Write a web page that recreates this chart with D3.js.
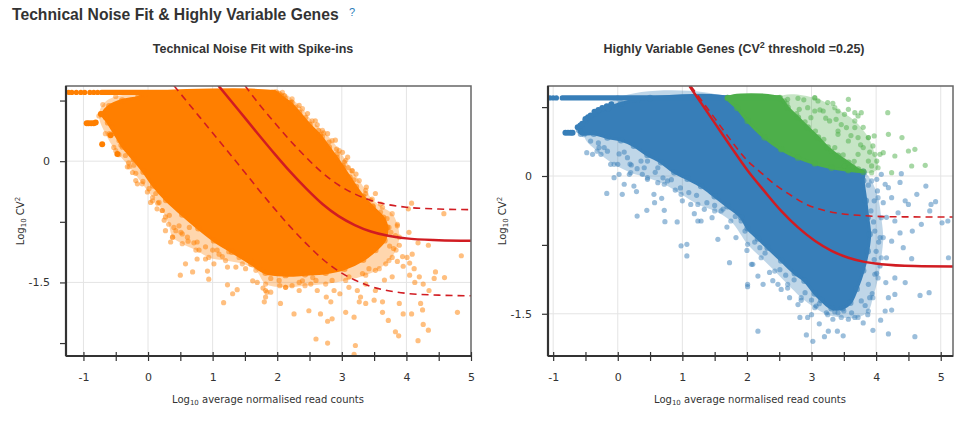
<!DOCTYPE html>
<html>
<head>
<meta charset="utf-8">
<script src="https://cdn.jsdelivr.net/npm/d3@7"></script>
<style>
body { margin: 0; background: #fff; }
svg text { fill: #333; }
</style>
</head>
<body>
<script>
// values (log10 units)
var capLevel = 0.85;

// ---- left: technical noise fit with spike-ins ----
var spikeXLabels = [-1, 0, 1, 2, 3, 4];
var spikeYLabels = [0, -1.5];
var spikeYMinor = [0.75, -0.75, -2.25];
var spikeCapDots = [-1.23, -1.18, -1.11, -1.04, -0.98, -0.9, -0.84, -0.78];
var spikeCapRow = [-0.72, 1.95];
var spikeTail = [[-0.95, 0.47], [-0.92, 0.47], [-0.88, 0.47], [-0.84, 0.47], [-0.81, 0.48],
  [-0.71, 0.21], [-0.73, 0.585], [-0.655, 0.545], [-0.58, 0.32], [-0.475, 0.09]];
var spikeCore = [[-0.05, 0.83], [1.98, 0.85], [2.06, 0.8], [2.2, 0.72], [2.34, 0.6], [2.5, 0.45],
  [2.66, 0.32], [2.8, 0.17], [2.92, 0.04], [3.02, -0.08], [3.12, -0.2], [3.22, -0.32], [3.33, -0.44],
  [3.48, -0.57], [3.64, -0.7], [3.7, -0.82], [3.66, -0.98], [3.52, -1.1], [3.33, -1.22], [3.04, -1.33],
  [2.75, -1.38], [2.43, -1.4], [2.13, -1.41], [1.82, -1.38], [1.6, -1.27], [1.3, -1.12], [1.02, -0.98],
  [0.78, -0.83], [0.53, -0.66], [0.28, -0.48], [0.08, -0.3], [-0.07, -0.13], [-0.22, 0.02], [-0.39, 0.18],
  [-0.52, 0.35], [-0.62, 0.48], [-0.7, 0.58], [-0.6, 0.68], [-0.4, 0.75], [-0.15, 0.79]];
var spikeHalo = [[-0.5, 0.8], [2.08, 0.85], [2.23, 0.77], [2.39, 0.65], [2.54, 0.5], [2.7, 0.38],
  [2.85, 0.255], [2.96, 0.13], [3.06, 0.01], [3.16, -0.115], [3.27, -0.24], [3.37, -0.36], [3.47, -0.47],
  [3.63, -0.57], [3.78, -0.65], [3.86, -0.78], [3.89, -0.94], [3.84, -1.1], [3.73, -1.23], [3.58, -1.33],
  [3.37, -1.41], [3.06, -1.475], [2.75, -1.52], [2.43, -1.54], [2.13, -1.56], [1.82, -1.52], [1.67, -1.35],
  [1.46, -1.27], [1.2, -1.23], [0.94, -1.19], [0.74, -1.1], [0.53, -1.02], [0.38, -0.94], [0.32, -0.78],
  [0.22, -0.61], [0.07, -0.45], [-0.09, -0.28], [-0.29, -0.07], [-0.5, 0.13], [-0.66, 0.34], [-0.76, 0.56],
  [-0.7, 0.7]];
var spikePoints = [[-0.24, -0.14], [-0.19, -0.24], [-0.165, -0.28], [0.07, -0.49], [0.015, -0.34],
  [0.17, -0.51], [0.25, -0.73], [0.27, -0.86], [0.38, -0.94], [0.35, -1.0], [0.43, -0.86], [0.48, -0.8],
  [0.58, -1.27], [0.5, -1.41], [0.69, -1.37], [0.71, -1.01], [0.79, -1.1], [0.92, -1.36], [0.94, -1.46],
  [0.89, -1.21], [1.02, -1.27], [1.1, -1.15], [1.23, -1.31], [1.23, -1.53], [1.31, -1.64], [1.38, -1.59],
  [1.17, -1.75], [1.36, -1.31], [1.51, -1.33], [1.62, -1.48], [1.69, -1.5], [1.78, -1.57], [1.82, -1.68],
  [1.8, -1.74], [1.84, -1.62], [0.22, -0.61], [0.33, -0.67], [0.12, -0.4], [-0.01, -0.38], [-0.08, -0.25],
  [-0.19, -0.15], [-0.32, -0.07], [-0.45, 0.08], [-0.53, 0.17], [-0.6, 0.34], [0.53, -0.9], [0.64, -0.82],
  [0.76, -1.21], [1.0, -1.1],
  [1.9, -1.62], [2.05, -1.76], [2.26, -1.89], [2.13, -1.56], [2.34, -1.6], [2.49, -1.85], [2.6, -2.2],
  [2.78, -2.25], [2.67, -1.89], [2.83, -1.74], [2.85, -1.95], [2.78, -1.98], [3.06, -1.87], [3.19, -1.93],
  [3.21, -2.28], [3.19, -2.39], [3.29, -1.68], [3.37, -1.76], [3.52, -1.6], [3.63, -1.87], [3.72, -1.97],
  [3.83, -2.11], [3.88, -2.16], [3.89, -1.76], [3.95, -1.89], [4.08, -1.89], [4.18, -2.22], [4.22, -1.76],
  [4.25, -1.84], [4.34, -2.09], [4.26, -2.02], [4.26, -1.52], [4.35, -1.6], [4.45, -1.37], [4.43, -1.45],
  [4.59, -1.44], [4.79, -1.87], [4.85, -1.17], [4.58, -0.65], [4.08, -0.52], [4.03, -0.59], [4.04, -0.88],
  [4.18, -1.01], [4.34, -1.04], [4.09, -1.15], [4.01, -1.19], [3.94, -1.18], [4.05, -1.26], [4.12, -1.33],
  [4.05, -1.41], [4.13, -1.5], [4.2, -1.43], [3.95, -1.3], [3.86, -1.24], [3.8, -1.08], [3.89, -1.04],
  [3.86, -0.8], [3.73, -0.82], [3.83, -0.92], [3.64, -0.73], [3.6, -0.53], [3.48, -0.55], [3.37, -0.4],
  [3.38, -0.32], [3.19, -0.23], [3.16, -0.12], [3.02, -0.05], [3.09, 0.05], [3.01, 0.11], [2.92, 0.15],
  [2.9, 0.26], [2.78, 0.34], [2.72, 0.35], [2.62, 0.45], [2.59, 0.5], [2.47, 0.59], [2.34, 0.69],
  [2.23, 0.73], [2.11, 0.81], [2.13, 0.78], [2.03, 0.84], [1.92, 0.85], [3.78, -1.43], [3.66, -1.47],
  [3.37, -1.52], [3.24, -1.6], [3.11, -1.56], [2.97, -1.64], [2.88, -1.6], [2.76, -1.68], [2.62, -1.6],
  [2.52, -1.52], [2.39, -1.48], [2.23, -1.54], [2.04, -1.54], [1.82, -1.6], [3.27, -1.74], [3.5, -1.72],
  [3.63, -1.74],
  [0.04, -0.51], [0.14, -0.59], [0.27, -0.69], [0.4, -0.82], [0.51, -0.88], [0.61, -0.94], [0.76, -1.0],
  [0.89, -1.06], [1.07, -1.1], [1.25, -1.12], [1.41, -1.19], [1.59, -1.23], [1.74, -1.29], [-0.35, 0.07],
  [-0.22, -0.05], [-0.45, 0.255], [-0.55, 0.42], [3.52, -0.4], [3.6, -0.63], [3.7, -0.71], [3.76, -0.88],
  [3.78, -1.19], [3.68, -1.27], [3.52, -1.35], [3.32, -1.39], [3.11, -1.43], [2.85, -1.475], [2.6, -1.475],
  [2.34, -1.5], [2.03, -1.475], [3.22, -0.16], [3.04, -0.01], [2.93, 0.09], [2.8, 0.235], [2.64, 0.38],
  [2.44, 0.54], [2.28, 0.67], [0.15, -0.52], [0.62, -0.99], [1.15, -1.18], [1.9, -1.45], [2.55, -1.44],
  [3.42, -1.33], [3.74, -1.05], [3.45, -0.48], [3.1, -0.08], [2.7, 0.3], [-0.3, -0.02], [-0.42, 0.2]];
var spikeFit = [[1.09, 0.935], [1.4, 0.633], [1.7, 0.34], [1.95, 0.1], [2.2, -0.13], [2.45, -0.34],
  [2.7, -0.53], [2.95, -0.68], [3.2, -0.79], [3.45, -0.87], [3.7, -0.92], [4.0, -0.955], [4.5, -0.977],
  [5.0, -0.985]];
var spikeUpper = [[1.5, 0.935], [1.7, 0.725], [1.95, 0.485], [2.2, 0.255], [2.45, 0.045], [2.7, -0.145],
  [2.95, -0.295], [3.2, -0.405], [3.45, -0.485], [3.7, -0.535], [4.0, -0.57], [4.5, -0.592], [5.0, -0.6]];
var spikeLower = [[0.4, 0.935], [0.8, 0.545], [1.2, 0.155], [1.5, -0.14], [1.7, -0.34], [1.95, -0.58],
  [2.2, -0.81], [2.45, -1.02], [2.7, -1.21], [2.95, -1.36], [3.2, -1.47], [3.45, -1.55], [3.7, -1.6],
  [4.0, -1.635], [4.5, -1.657], [5.0, -1.665]];

// ---- right: highly variable genes ----
var geneXLabels = [-1, 0, 1, 2, 3, 4, 5];
var geneYLabels = [0, -1.5];
var geneYMinor = [0.75, -0.75];
var geneCapDots = [-1.05, -1.0, -0.95];
var geneCapRow = [-0.86, 1.7];
var hvgCapRow = [1.7, 2.5];
var geneTail = [[-0.81, 0.47], [-0.77, 0.47], [-0.73, 0.47], [-0.7, 0.47], [-0.62, 0.53], [-0.58, 0.55],
  [-0.55, 0.57], [-0.5, 0.62], [-0.46, 0.64], [-0.42, 0.66], [-0.36, 0.7], [-0.3, 0.72], [-0.24, 0.74],
  [-0.17, 0.76], [-0.1, 0.78]];
var hvgBoundary = [[1.7, 0.85], [1.85, 0.74], [2.01, 0.6], [2.27, 0.42], [2.53, 0.29], [2.79, 0.2],
  [3.05, 0.135], [3.31, 0.09], [3.57, 0.062], [3.8, 0.047]];
var geneEdge = [[3.8, -0.05], [3.84, -0.27], [3.87, -0.45], [3.9, -0.635], [3.87, -0.82], [3.8, -1.03],
  [3.7, -1.23], [3.6, -1.38], [3.48, -1.44], [3.31, -1.44], [3.15, -1.35], [3.05, -1.28], [2.89, -1.14],
  [2.74, -1.06], [2.53, -0.92], [2.32, -0.78], [2.17, -0.68], [2.01, -0.57], [1.91, -0.45], [1.7, -0.33],
  [1.5, -0.22], [1.29, -0.11], [1.08, -0.03], [0.875, 0.04], [0.67, 0.15], [0.46, 0.23], [0.25, 0.33],
  [0.05, 0.39], [-0.16, 0.42], [-0.37, 0.46], [-0.57, 0.46], [-0.6, 0.5], [-0.5, 0.6], [-0.35, 0.68],
  [-0.15, 0.74], [0.05, 0.79], [0.3, 0.83], [0.5, 0.85]];
var geneHalo = [[1.7, 0.85], [2.01, 0.6], [2.53, 0.29], [3.05, 0.135], [3.57, 0.062], [3.82, 0.036],
  [3.93, -0.054], [4.03, -0.236], [4.08, -0.454], [4.11, -0.67], [4.08, -0.89], [4.03, -1.11], [3.95, -1.325],
  [3.88, -1.47], [3.72, -1.54], [3.46, -1.54], [3.25, -1.51], [3.05, -1.434], [2.84, -1.325], [2.63, -1.18],
  [2.43, -1.035], [2.22, -0.89], [2.01, -0.744], [1.75, -0.49], [1.5, -0.38], [1.24, -0.31], [0.98, -0.2],
  [0.72, -0.09], [0.46, -0.018], [0.2, 0.036], [-0.057, 0.127], [-0.32, 0.27], [-0.52, 0.45], [0.0, 0.85]];
var hvgEdge = [[3.72, 0.07], [3.57, 0.145], [3.41, 0.22], [3.25, 0.31], [3.1, 0.42], [2.94, 0.53],
  [2.79, 0.635], [2.63, 0.745], [2.51, 0.85]];
var hvgHalo = [[2.5, 0.853], [3.05, 0.85], [3.36, 0.744], [3.67, 0.6], [3.88, 0.418], [3.98, 0.236],
  [4.03, 0.09], [3.93, 0.036], [3.57, 0.062], [3.05, 0.135], [2.53, 0.29]];
var genePoints = [[-0.48, 0.254], [-0.39, 0.236], [-0.26, 0.236], [-0.29, 0.31], [-0.16, 0.27],
  [-0.17, -0.19], [-0.057, -0.018], [0.02, 0.018], [0.07, -0.2], [0.1, -0.09], [0.18, 0.018], [0.21, 0.12],
  [0.25, -0.11], [0.29, -0.17], [0.3, -0.436], [0.45, -0.374], [0.38, 0.018], [0.46, -0.036], [0.56, -0.2],
  [0.57, -0.29], [0.62, -0.073], [0.68, -0.243], [0.72, -0.374], [0.73, -0.497], [0.77, -0.054],
  [0.89, -0.153], [0.92, -0.5], [0.98, -0.76], [1.0, -0.27], [1.07, -0.744], [1.07, -0.87], [1.185, -0.41],
  [1.24, -0.49], [1.29, -0.49], [1.34, -0.363], [1.46, -0.454], [1.55, -0.69], [1.69, -0.556],
  [1.73, -0.944], [1.83, -0.67], [2.0, -0.81], [2.01, -1.205], [2.07, -0.962], [1.91, -0.49], [1.6, -0.38],
  [1.13, -0.31], [0.46, 0.163], [0.62, 0.09], [0.36, 0.163], [0.15, 0.2], [0.0, 0.127], [-0.11, 0.127],
  [2.09, -0.962], [2.01, -1.18], [2.17, -1.69], [2.35, -1.05], [2.4, -1.14], [2.53, -1.235], [2.63, -1.22],
  [2.82, -1.54], [2.84, -1.354], [2.92, -1.73], [2.94, -1.54], [3.02, -1.8], [3.12, -1.61], [3.2, -1.75],
  [3.26, -1.69], [3.33, -1.56], [3.4, -1.69], [3.49, -1.74], [3.57, -1.56], [3.67, -1.54], [3.8, -1.6],
  [3.87, -1.51], [3.95, -1.68], [4.07, -1.57], [4.19, -1.72], [4.6, -1.75], [4.14, -1.47], [4.24, -1.46],
  [4.29, -1.29], [4.19, -1.325], [4.15, -1.16], [4.29, -1.11], [4.45, -1.16], [4.68, -1.3], [4.82, -1.27],
  [4.55, -0.9], [4.42, -0.78], [4.16, -0.89], [4.24, -0.71], [4.37, -0.62], [4.56, -0.6], [4.7, -0.526],
  [4.83, -0.38], [4.85, -0.31], [4.77, -0.11], [4.63, -0.2], [4.5, -0.31], [4.45, -0.27], [4.34, -0.4],
  [4.29, -0.49], [4.16, -0.45], [4.24, -0.236], [4.14, -0.09], [4.08, 0.018], [4.01, -0.036], [4.39, 0.025],
  [4.37, -0.07], [4.19, -0.127], [4.02, -0.163], [4.11, -0.29], [3.98, -0.6], [4.06, -0.67], [4.0, -0.82],
  [4.06, -0.98], [3.98, -1.07], [3.88, -1.18], [3.9, -1.325], [3.77, -1.36], [3.41, -1.49], [3.23, -1.49],
  [3.07, -1.416], [3.0, -1.51], [2.79, -1.4], [2.66, -1.325], [2.48, -1.18], [2.25, -1.18], [2.17, -1.09],
  [5.12, -0.89], [5.11, -0.49], [4.92, -0.28], [5.02, -0.51],
  [-0.42, 0.38], [-0.21, 0.31], [0.02, 0.24], [0.19, 0.13], [0.41, 0.09], [0.58, 0.04], [0.83, -0.04],
  [0.97, -0.13], [1.22, -0.21], [1.38, -0.29], [1.63, -0.36], [1.82, -0.44], [1.97, -0.6], [2.12, -0.72],
  [2.28, -0.84], [2.51, -1.02], [2.73, -1.13], [2.9, -1.27], [3.12, -1.39], [3.36, -1.48], [3.62, -1.49],
  [3.83, -1.41], [3.94, -1.28], [4.01, -1.06], [3.97, -0.91], [4.04, -0.72], [3.96, -0.5], [3.97, -0.27],
  [3.88, -0.1], [0.3, 0.08], [0.7, -0.02], [1.1, -0.18], [1.5, -0.32], [2.2, -0.78], [2.6, -1.08],
  [3.0, -1.35], [3.5, -1.47], [3.92, -0.38], [-0.3, 0.36], [0.1, 0.26]];
var hvgPoints = [[2.58, 0.817], [2.63, 0.835], [2.79, 0.846], [2.81, 0.726], [2.94, 0.744], [2.99, 0.635],
  [3.1, 0.817], [3.05, 0.708], [3.18, 0.708], [3.25, 0.8], [3.28, 0.6], [3.38, 0.617], [3.41, 0.708],
  [3.51, 0.672], [3.57, 0.726], [3.67, 0.69], [3.77, 0.69], [3.72, 0.654], [3.54, 0.527], [3.67, 0.527],
  [3.41, 0.454], [3.57, 0.381], [3.72, 0.418], [3.8, 0.309], [3.88, 0.418], [3.97, 0.436], [3.95, 0.327],
  [4.06, 0.236], [4.01, 0.163], [4.11, 0.254], [3.72, 0.236], [3.88, 0.163], [4.19, 0.454], [4.18, 0.69],
  [4.4, 0.418], [4.29, 0.218], [4.5, 0.272], [4.6, 0.29], [4.55, 0.109], [4.76, 0.116], [4.24, 0.036],
  [3.57, 0.835], [3.05, 0.853], [3.41, 0.49], [3.31, 0.272], [3.64, 0.109], [3.51, 0.109],
  [2.62, 0.79], [2.77, 0.68], [2.9, 0.59], [3.06, 0.49], [3.19, 0.4], [3.36, 0.31], [3.49, 0.23],
  [3.66, 0.16], [3.22, 0.63], [3.46, 0.56], [3.61, 0.44], [3.76, 0.34], [3.9, 0.26], [3.33, 0.79],
  [2.88, 0.83], [3.13, 0.72], [3.8, 0.53], [3.93, 0.11]];
var geneFit = [[1.11, 0.98], [1.45, 0.63], [1.75, 0.32], [2.01, 0.06], [2.27, -0.165], [2.53, -0.38],
  [2.79, -0.56], [3.05, -0.705], [3.31, -0.815], [3.57, -0.89], [3.82, -0.935], [4.08, -0.96], [4.6, -0.98],
  [5.2, -0.985]];
var geneThreshold = [[1.13, 0.98], [1.5, 0.63], [1.75, 0.39], [2.01, 0.165], [2.22, 0.035], [2.43, -0.09],
  [2.69, -0.215], [2.94, -0.315], [3.2, -0.375], [3.46, -0.41], [3.77, -0.43], [4.18, -0.443], [5.2, -0.447]];

var orange = '#ff7f00', blue = '#377eb8', green = '#4daf4a', red = '#d11c22';
var r = 2.6;

var svg = d3.select('body').append('svg')
    .attr('width', 970)
    .attr('height', 422);

svg.append('text')
    .attr('x', 12).attr('y', 20)
    .style('font-family', '"Liberation Sans", Arial, sans-serif')
    .style('font-weight', 'bold').style('font-size', '15.7px')
    .text('Technical Noise Fit & Highly Variable Genes');
svg.append('text')
    .attr('x', 349).attr('y', 16)
    .style('font-family', '"Liberation Sans", Arial, sans-serif')
    .style('font-size', '11px').style('fill', '#2b7bb9')
    .text('?');

function drawPanel(p) {
    var x = d3.scaleLinear().domain(p.xDomain).range([p.left, p.right]);
    var y = d3.scaleLinear().domain(p.yDomain).range([p.bottom, p.top]);
    var g = svg.append('g');
    var w = p.right - p.left, h = p.bottom - p.top;

    g.append('text')
        .attr('x', p.titleX).attr('y', 53)
        .attr('text-anchor', 'middle')
        .style('font-family', '"Liberation Sans", Arial, sans-serif')
        .style('font-weight', 'bold').style('font-size', '12.5px')
        .call(p.title);

    g.append('clipPath').attr('id', 'clip-' + p.id)
        .append('rect').attr('x', p.left).attr('y', p.top).attr('width', w).attr('height', h);

    // grid
    g.selectAll('.vgrid').data(p.xLabels).enter().append('line')
        .attr('x1', function (d) { return x(d); }).attr('x2', function (d) { return x(d); })
        .attr('y1', p.top).attr('y2', p.bottom)
        .style('stroke', '#e4e4e4').style('stroke-width', 1);
    g.selectAll('.hgrid').data(p.yLabels).enter().append('line')
        .attr('y1', function (d) { return y(d); }).attr('y2', function (d) { return y(d); })
        .attr('x1', p.left).attr('x2', p.right)
        .style('stroke', '#e4e4e4').style('stroke-width', 1);

    var plot = g.append('g').attr('clip-path', 'url(#clip-' + p.id + ')');
    var area = d3.line().x(function (d) { return x(d[0]); }).y(function (d) { return y(d[1]); })
        .curve(d3.curveCatmullRomClosed);
    var line = d3.line().x(function (d) { return x(d[0]); }).y(function (d) { return y(d[1]); })
        .curve(d3.curveMonotoneX);

    function dots(sel, data, rad, op) {
        sel.selectAll(null).data(data).enter().append('circle')
            .attr('cx', function (d) { return x(d[0]); }).attr('cy', function (d) { return y(d[1]); })
            .attr('r', rad).style('fill', sel.attr('data-c')).style('fill-opacity', op);
    }

    p.clouds.forEach(function (c) {
        var cg = plot.append('g').attr('data-c', c.color);
        // half-dense fringe, then the saturated core
        cg.append('path').attr('d', area(c.halo))
            .style('fill', c.color).style('fill-opacity', 0.32);
        dots(cg, c.halo, r, 0.45);
        cg.append('path').attr('d', area(c.core))
            .style('fill', c.color).style('stroke', c.color)
            .style('stroke-width', 3).style('stroke-linejoin', 'round');
        dots(cg, c.core, r + 0.6, 0.6);
        cg.append('line')
            .attr('x1', x(c.capRow[0])).attr('x2', x(c.capRow[1]))
            .attr('y1', y(capLevel)).attr('y2', y(capLevel))
            .style('stroke', c.color).style('stroke-width', r * 2).style('stroke-linecap', 'round');
        cg.selectAll(null).data(c.capDots || []).enter().append('circle')
            .attr('cx', function (d) { return x(d); }).attr('cy', y(capLevel)).attr('r', r)
            .style('fill', c.color);
        dots(cg, c.tail || [], r + 0.4, 1);
        dots(cg, c.points, r, 0.5);
    });

    p.lines.forEach(function (l) {
        plot.append('path').attr('d', line(l.data))
            .style('fill', 'none').style('stroke', red).style('stroke-width', l.dash ? 1.6 : 2.5)
            .style('stroke-dasharray', l.dash ? '7,5' : null);
    });

    // frame
    g.append('rect').attr('x', p.left).attr('y', p.top).attr('width', w).attr('height', h)
        .style('fill', 'none').style('stroke', '#666').style('stroke-width', 1.5);

    // axes
    var xTicks = d3.range(p.xLabels[0], p.xDomain[1] + 0.01, 0.5);
    var xa = g.append('g').attr('transform', 'translate(0,' + p.bottom + ')')
        .call(d3.axisBottom(x).tickValues(xTicks).tickSize(5).tickPadding(12)
            .tickFormat(function (d) { return Number.isInteger(d) ? d : ''; }));
    xa.select('.domain').remove();
    xa.selectAll('.tick line').attr('y1', -4).style('stroke', '#333').style('stroke-width', 1.2);
    xa.selectAll('text').style('font-family', '"DejaVu Sans", sans-serif').style('font-size', '11px').style('fill', '#333');

    var ya = g.append('g').attr('transform', 'translate(' + p.left + ',0)')
        .call(d3.axisLeft(y).tickValues(p.yLabels.concat(p.yMinor)).tickSize(6).tickPadding(10)
            .tickFormat(function (d) { return p.yLabels.indexOf(d) >= 0 ? d : ''; }));
    ya.select('.domain').remove();
    ya.selectAll('.tick line').attr('x1', 1).style('stroke', '#333').style('stroke-width', 1.2);
    ya.selectAll('text').style('font-family', '"DejaVu Sans", sans-serif').style('font-size', '11px').style('fill', '#333');

    g.append('line').attr('x1', p.left).attr('x2', p.right).attr('y1', p.bottom).attr('y2', p.bottom)
        .style('stroke', '#333').style('stroke-width', 2.2);
    g.append('line').attr('x1', p.left).attr('x2', p.left).attr('y1', p.top).attr('y2', p.bottom)
        .style('stroke', '#333').style('stroke-width', 2.2);

    // axis titles
    var xt = g.append('text')
        .attr('x', (p.left + p.right) / 2 + p.xTitleShift).attr('y', 403)
        .attr('text-anchor', 'middle')
        .style('font-family', '"DejaVu Sans", sans-serif').style('font-size', '10px');
    xt.append('tspan').text('Log');
    xt.append('tspan').attr('dy', 2).style('font-size', '7px').text('10');
    xt.append('tspan').attr('dy', -2).text(' average normalised read counts');

    var yt = g.append('text')
        .attr('transform', 'translate(' + p.yTitleX + ',' + (p.top + p.bottom) / 2 + ') rotate(-90)')
        .attr('text-anchor', 'middle')
        .style('font-family', '"DejaVu Sans", sans-serif').style('font-size', '10px');
    yt.append('tspan').text('Log');
    yt.append('tspan').attr('dy', 2).style('font-size', '7px').text('10');
    yt.append('tspan').attr('dy', -2).text(' CV');
    yt.append('tspan').attr('dy', -4).style('font-size', '7px').text('2');
}

drawPanel({
    id: 'spike', left: 66, right: 471, top: 86, bottom: 356,
    xDomain: [-1.27, 5.0], yDomain: [-2.41, 0.93],
    xLabels: spikeXLabels, yLabels: spikeYLabels, yMinor: spikeYMinor,
    titleX: 253, xTitleShift: -0.5, yTitleX: 24,
    title: function (t) { t.text('Technical Noise Fit with Spike-ins'); },
    clouds: [{ color: orange, core: spikeCore, halo: spikeHalo, capRow: spikeCapRow, capDots: spikeCapDots,
        tail: spikeTail, points: spikePoints }],
    lines: [{ data: spikeUpper, dash: true }, { data: spikeLower, dash: true }, { data: spikeFit }]
});

drawPanel({
    id: 'gene', left: 548, right: 953, top: 86, bottom: 356,
    xDomain: [-1.08, 5.19], yDomain: [-1.96, 0.98],
    xLabels: geneXLabels, yLabels: geneYLabels, yMinor: geneYMinor,
    titleX: 734, xTitleShift: -0.5, yTitleX: 506,
    title: function (t) {
        t.append('tspan').text('Highly Variable Genes (CV');
        t.append('tspan').attr('dy', -5).style('font-size', '9px').text('2');
        t.append('tspan').attr('dy', 5).text(' threshold =0.25)');
    },
    clouds: [
        { color: blue, core: hvgBoundary.concat(geneEdge), halo: geneHalo, capRow: geneCapRow,
          capDots: geneCapDots, tail: geneTail, points: genePoints },
        { color: green, core: hvgBoundary.concat(hvgEdge), halo: hvgHalo, capRow: hvgCapRow, points: hvgPoints }
    ],
    lines: [{ data: geneThreshold, dash: true }, { data: geneFit }]
});
</script>
</body>
</html>
